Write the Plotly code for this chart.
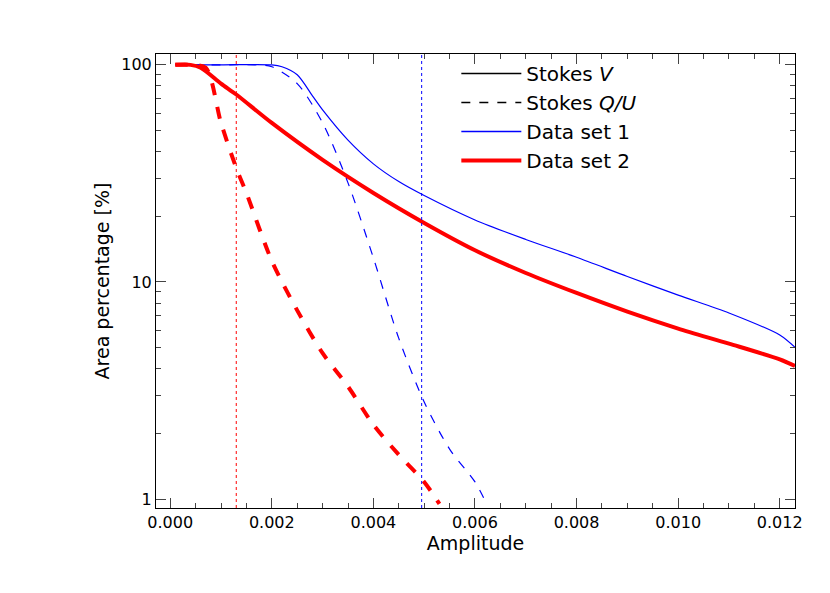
import plotly.graph_objects as go

# Data
x_s1 = [0.0001, 0.0010, 0.0020, 0.0022, 0.0025, 0.0028, 0.0030, 0.0035, 0.0040, 0.0045, 0.0050, 0.0060, 0.0070, 0.0080, 0.0090, 0.0100, 0.0110, 0.0120, 0.0123]
y_s1 = [100, 100, 100, 98, 90, 72, 62, 45, 35, 29, 25, 19.3, 15.7, 13, 10.6, 8.7, 7.2, 5.7, 5.0]
x_s2 = [0.0001, 0.0004, 0.0006, 0.0010, 0.0013, 0.0020, 0.0030, 0.0040, 0.0050, 0.0060, 0.0070, 0.0080, 0.0090, 0.0100, 0.0110, 0.0120, 0.0123]
y_s2 = [100, 100, 97, 82, 73, 54, 36.5, 25.7, 18.7, 14.0, 11.0, 8.9, 7.3, 6.1, 5.2, 4.4, 4.1]
x_d1 = [0.0001, 0.0010, 0.0017, 0.0020, 0.0025, 0.0030, 0.0035, 0.0040, 0.0045, 0.0050, 0.0055, 0.0060, 0.0062]
y_d1 = [100, 100, 100, 98, 82, 54, 28.6, 12.9, 5.5, 2.8, 1.7, 1.2, 0.98]
x_d2 = [0.0001, 0.0004, 0.0007, 0.0010, 0.0013, 0.0015, 0.0020, 0.0025, 0.0030, 0.0035, 0.0040, 0.0045, 0.0050, 0.0053]
y_d2 = [100, 100, 97, 54, 33.5, 25.7, 12.5, 7.4, 4.7, 3.3, 2.2, 1.6, 1.2, 0.95]
thr_1 = 0.00495
thr_2 = 0.0013

fig = go.Figure()
fig.add_trace(go.Scatter(x=x_s1, y=y_s1, mode="lines", line=dict(color="blue", width=1.2, shape="spline", smoothing=0.8), showlegend=False))
fig.add_trace(go.Scatter(x=x_d1, y=y_d1, mode="lines", line=dict(color="blue", width=1.2, dash="dash", shape="spline", smoothing=0.8), showlegend=False))
fig.add_trace(go.Scatter(x=x_s2, y=y_s2, mode="lines", line=dict(color="red", width=4, shape="spline", smoothing=0.8), showlegend=False))
fig.add_trace(go.Scatter(x=x_d2, y=y_d2, mode="lines", line=dict(color="red", width=4, dash="dash", shape="spline", smoothing=0.8), showlegend=False))
for xv, c in [(thr_1, "blue"), (thr_2, "red")]:
    fig.add_trace(go.Scatter(x=[xv, xv], y=[0.91, 112], mode="lines", line=dict(color=c, width=1, dash="dot"), showlegend=False))

# legend entries
for name, col, w, dash in [("Stokes <i>V</i>", "black", 1.5, "solid"),
                           ("Stokes <i>Q/U</i>", "black", 1.5, "dash"),
                           ("Data set 1", "blue", 1.5, "solid"),
                           ("Data set 2", "red", 4, "solid")]:
    fig.add_trace(go.Scatter(x=[None], y=[None], mode="lines", name=name, line=dict(color=col, width=w, dash=dash)))

fig.update_layout(
    width=830, height=593, plot_bgcolor="white", paper_bgcolor="white",
    margin=dict(l=148, r=43, t=46, b=93, autoexpand=False),
    font=dict(family="DejaVu Sans", size=16, color="black"),
    legend=dict(x=0.47, y=1.0, xanchor="left", yanchor="top", bgcolor="rgba(0,0,0,0)",
                font=dict(size=20), itemwidth=60, tracegroupgap=0),
)
fig.update_xaxes(range=[-0.00028, 0.0123], tickvals=[0, 0.002, 0.004, 0.006, 0.008, 0.010, 0.012],
                 ticktext=["0.000", "0.002", "0.004", "0.006", "0.008", "0.010", "0.012"],
                 ticks="inside", ticklen=10, mirror="allticks", showline=True, linecolor="black",
                 showgrid=False, zeroline=False, automargin=False, title=dict(text="Amplitude", standoff=4),
                 minor=dict(ticks="inside", ticklen=5, dtick=0.0005, tick0=0, showgrid=False))
fig.update_yaxes(type="log", range=[-0.041, 2.05], tickvals=[1, 10, 100], ticktext=["1", "10", "100"],
                 ticks="inside", ticklen=10, mirror="allticks", showline=True, linecolor="black",
                 showgrid=False, zeroline=False, automargin=False, title=dict(text="Area percentage [%]", standoff=6),
                 minor=dict(ticks="inside", ticklen=5, dtick="D1", showgrid=False))
fig.write_html("out.html")
